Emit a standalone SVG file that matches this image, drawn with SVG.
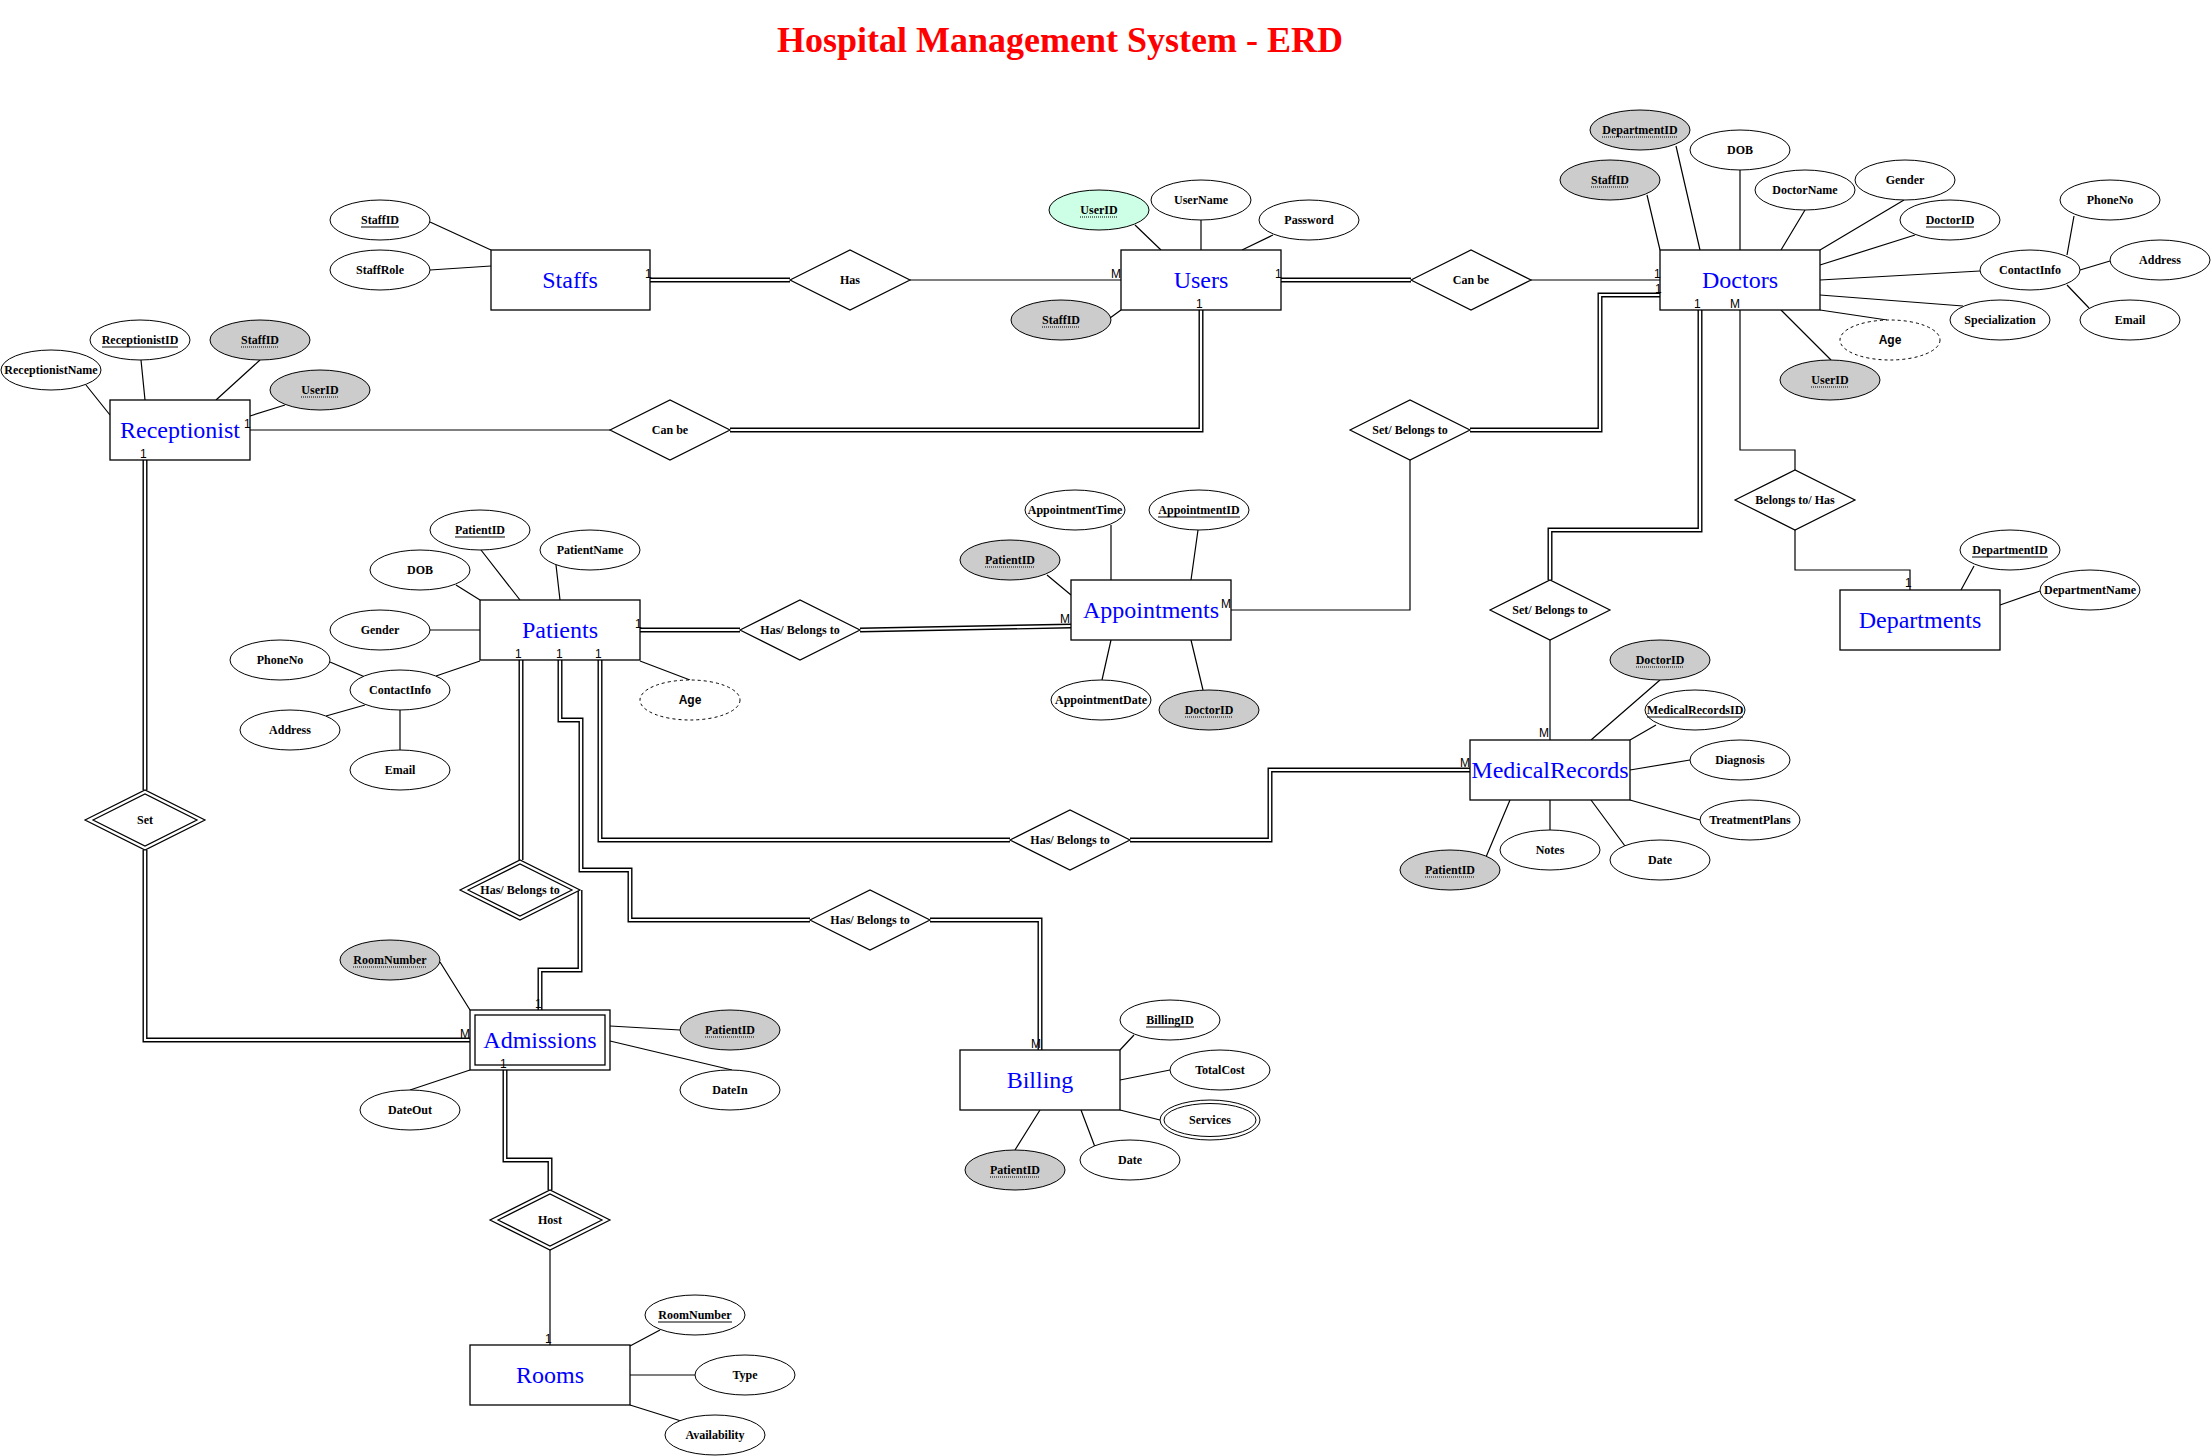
<svg xmlns="http://www.w3.org/2000/svg" width="2212" height="1456" viewBox="0 0 2212 1456">
<style>
.bg{fill:#fff}
.ent{fill:#fff;stroke:#000;stroke-width:1.3}
.etxt{font-family:'Liberation Serif','Times New Roman',serif;font-size:24px;fill:#0000FF;text-anchor:middle}
.att{fill:#fff;stroke:#000;stroke-width:1}
.fk{fill:#CCCCCC}
.mint{fill:#CCFFE6}
.der{stroke-dasharray:3 3}
.atxt{font-family:'Liberation Serif','Times New Roman',serif;font-weight:bold;font-size:12px;text-anchor:middle;fill:#000}
.stxt{font-family:'Liberation Sans',Arial,sans-serif;font-weight:bold;font-size:12px;text-anchor:middle;fill:#000}
.rel{fill:#fff;stroke:#000;stroke-width:1.2}
.ln{fill:none;stroke:#000;stroke-width:1.2}
.db{fill:none;stroke:#000;stroke-width:5}
.dw{fill:none;stroke:#fff;stroke-width:2.2}
.ul{stroke:#000;stroke-width:1}
.uld{stroke:#000;stroke-width:1;stroke-dasharray:1 1}
.card{font-family:'Liberation Sans',Arial,sans-serif;font-size:12px;fill:#000}
.title{font-family:'Liberation Serif','Times New Roman',serif;font-weight:bold;font-size:36px;fill:#FF0000;text-anchor:middle}
</style>
<rect class="bg" x="0" y="0" width="2212" height="1456"/>
<text class="title" x="1060" y="52">Hospital Management System - ERD</text>

<g id="connectors">
<!-- attribute lines -->
<path class="ln" d="M430,222L491,250M430,270L491,266"/>
<path class="ln" d="M1135,225L1161,250M1201,220L1201,250M1273,235L1242,250M1110,318L1121,310"/>
<path class="ln" d="M86,385L110,415M141,360L145,400M260,360L216,400M285,405L250,416"/>
<path class="ln" d="M1676,146L1700,250M1647,195L1660,250M1740,170L1740,250M1805,210L1781,250M1904,200L1820,250M1915,235L1820,265M1980,271L1820,280M2074,216L2067,255M2110,261L2080,270M2089,308L2067,285M1963,306L1820,295M1887,320L1820,310M1831,360L1781,310"/>
<path class="ln" d="M481,550L520,600M556,565L560,600M456,585L480,600M430,630L480,630M436,676L480,661M330,662L365,677M326,716L365,705M400,710L400,750M640,661L690,680"/>
<path class="ln" d="M1111,525L1111,580M1198,530L1191,580M1047,575L1071,595M1102,680L1111,640M1203,690L1191,640"/>
<path class="ln" d="M1660,680L1591,740M1656,725L1630,740M1690,760L1630,770M1700,820L1630,800M1625,846L1591,800M1550,830L1550,800M1486,857L1510,800"/>
<path class="ln" d="M1974,566L1961,590M2040,591L2000,605"/>
<path class="ln" d="M440,962L470,1010M680,1030L610,1026M732,1070L610,1041M410,1090L470,1070"/>
<path class="ln" d="M1134,1035L1120,1050M1170,1070L1120,1080M1160,1120L1120,1110M1095,1147L1081,1110M1015,1150L1040,1110"/>
<path class="ln" d="M660,1330L630,1346M695,1375L630,1375M681,1421L630,1405"/>
<!-- single relationship lines -->
<path class="ln" d="M910,280H1121"/>
<path class="ln" d="M250,430H610"/>
<path class="ln" d="M1531,280H1660"/>
<path class="ln" d="M1410,460V610H1231"/>
<path class="ln" d="M1740,310V450H1795V470"/>
<path class="ln" d="M1795,530V570H1910V590"/>
<path class="ln" d="M1550,640V740"/>
<path class="ln" d="M550,1250V1345"/>
<!-- double relationship lines -->
<path class="db" d="M650,280H790"/><path class="dw" d="M650,280H790"/>
<path class="db" d="M730,430H1201V310"/><path class="dw" d="M730,430H1201V310"/>
<path class="db" d="M1281,280H1411"/><path class="dw" d="M1281,280H1411"/>
<path class="db" d="M1660,295H1600V430H1470"/><path class="dw" d="M1660,295H1600V430H1470"/>
<path class="db" d="M1700,310V530H1550V580"/><path class="dw" d="M1700,310V530H1550V580"/>
<path class="db" d="M640,630H740"/><path class="dw" d="M640,630H740"/>
<path class="db" d="M860,630L1071,626"/><path class="dw" d="M860,630L1071,626"/>
<path class="db" d="M600,660V840H1010"/><path class="dw" d="M600,660V840H1010"/>
<path class="db" d="M1130,840H1270V770H1470"/><path class="dw" d="M1130,840H1270V770H1470"/>
<path class="db" d="M560,660V720H581V870H630V920H810"/><path class="dw" d="M560,660V720H581V870H630V920H810"/>
<path class="db" d="M930,920H1040V1050"/><path class="dw" d="M930,920H1040V1050"/>
<path class="db" d="M521,660V860"/><path class="dw" d="M521,660V860"/>
<path class="db" d="M580,890V970H540V1010"/><path class="dw" d="M580,890V970H540V1010"/>
<path class="db" d="M145,460V790"/><path class="dw" d="M145,460V790"/>
<path class="db" d="M145,850V1040H470"/><path class="dw" d="M145,850V1040H470"/>
<path class="db" d="M505,1070V1160H550V1190"/><path class="dw" d="M505,1070V1160H550V1190"/>
</g>

<!-- Relationships -->
<g id="rel-has"><polygon class="rel" points="790,280 850,250 910,280 850,310"/><text class="atxt" x="850" y="284">Has</text></g>
<g id="rel-canbe-recep"><polygon class="rel" points="610,430 670,400 730,430 670,460"/><text class="atxt" x="670" y="434">Can be</text></g>
<g id="rel-canbe-doc"><polygon class="rel" points="1411,280 1471,250 1531,280 1471,310"/><text class="atxt" x="1471" y="284">Can be</text></g>
<g id="rel-setbelongs-appt"><polygon class="rel" points="1350,430 1410,400 1470,430 1410,460"/><text class="atxt" x="1410" y="434">Set/ Belongs to</text></g>
<g id="rel-belongshas"><polygon class="rel" points="1735,500 1795,470 1855,500 1795,530"/><text class="atxt" x="1795" y="504">Belongs to/ Has</text></g>
<g id="rel-setbelongs-med"><polygon class="rel" points="1490,610 1550,580 1610,610 1550,640"/><text class="atxt" x="1550" y="614">Set/ Belongs to</text></g>
<g id="rel-has-appt"><polygon class="rel" points="740,630 800,600 860,630 800,660"/><text class="atxt" x="800" y="634">Has/ Belongs to</text></g>
<g id="rel-has-med"><polygon class="rel" points="1010,840 1070,810 1130,840 1070,870"/><text class="atxt" x="1070" y="844">Has/ Belongs to</text></g>
<g id="rel-has-bill"><polygon class="rel" points="810,920 870,890 930,920 870,950"/><text class="atxt" x="870" y="924">Has/ Belongs to</text></g>
<g id="rel-has-adm"><polygon class="rel" points="460,890 520,860 580,890 520,920"/><polygon class="rel" points="468,890 520,864 572,890 520,916"/><text class="atxt" x="520" y="894">Has/ Belongs to</text></g>
<g id="rel-set"><polygon class="rel" points="85,820 145,790 205,820 145,850"/><polygon class="rel" points="93,820 145,794 197,820 145,846"/><text class="atxt" x="145" y="824">Set</text></g>
<g id="rel-host"><polygon class="rel" points="490,1220 550,1190 610,1220 550,1250"/><polygon class="rel" points="498,1220 550,1194 602,1220 550,1246"/><text class="atxt" x="550" y="1224">Host</text></g>

<!-- Entities -->
<g id="ent-staffs"><rect class="ent" x="491" y="250" width="159" height="60"/><text class="etxt" x="570" y="288">Staffs</text></g>
<g id="ent-users"><rect class="ent" x="1121" y="250" width="160" height="60"/><text class="etxt" x="1201" y="288">Users</text></g>
<g id="ent-doctors"><rect class="ent" x="1660" y="250" width="160" height="60"/><text class="etxt" x="1740" y="288">Doctors</text></g>
<g id="ent-receptionist"><rect class="ent" x="110" y="400" width="140" height="60"/><text class="etxt" x="180" y="438">Receptionist</text></g>
<g id="ent-patients"><rect class="ent" x="480" y="600" width="160" height="60"/><text class="etxt" x="560" y="638">Patients</text></g>
<g id="ent-appointments"><rect class="ent" x="1071" y="580" width="160" height="60"/><text class="etxt" x="1151" y="618">Appointments</text></g>
<g id="ent-medicalrecords"><rect class="ent" x="1470" y="740" width="160" height="60"/><text class="etxt" x="1550" y="778">MedicalRecords</text></g>
<g id="ent-departments"><rect class="ent" x="1840" y="590" width="160" height="60"/><text class="etxt" x="1920" y="628">Departments</text></g>
<g id="ent-admissions"><rect class="ent" x="470" y="1010" width="140" height="60"/><rect class="ent" x="475" y="1015" width="130" height="50"/><text class="etxt" x="540" y="1048">Admissions</text></g>
<g id="ent-billing"><rect class="ent" x="960" y="1050" width="160" height="60"/><text class="etxt" x="1040" y="1088">Billing</text></g>
<g id="ent-rooms"><rect class="ent" x="470" y="1345" width="160" height="60"/><text class="etxt" x="550" y="1383">Rooms</text></g>

<!-- Attributes: Staffs -->
<g id="att-staffs-staffid"><ellipse class="att" cx="380" cy="220" rx="50" ry="20"/><text class="atxt" x="380" y="224">StaffID</text><line class="ul" x1="361" y1="227" x2="399" y2="227"/></g>
<g id="att-staffs-staffrole"><ellipse class="att" cx="380" cy="270" rx="50" ry="20"/><text class="atxt" x="380" y="274">StaffRole</text></g>

<!-- Users -->
<g id="att-users-userid"><ellipse class="att mint" cx="1099" cy="210" rx="50" ry="20"/><text class="atxt" x="1099" y="214">UserID</text><line class="uld" x1="1080" y1="217" x2="1118" y2="217"/></g>
<g id="att-users-username"><ellipse class="att" cx="1201" cy="200" rx="50" ry="20"/><text class="atxt" x="1201" y="204">UserName</text></g>
<g id="att-users-password"><ellipse class="att" cx="1309" cy="220" rx="50" ry="20"/><text class="atxt" x="1309" y="224">Password</text></g>
<g id="att-users-staffid"><ellipse class="att fk" cx="1061" cy="320" rx="50" ry="20"/><text class="atxt" x="1061" y="324">StaffID</text><line class="uld" x1="1042" y1="327" x2="1080" y2="327"/></g>

<!-- Receptionist -->
<g id="att-rec-name"><ellipse class="att" cx="51" cy="370" rx="50" ry="20"/><text class="atxt" x="51" y="374">ReceptionistName</text></g>
<g id="att-rec-id"><ellipse class="att" cx="140" cy="340" rx="50" ry="20"/><text class="atxt" x="140" y="344">ReceptionistID</text><line class="ul" x1="102" y1="347" x2="178" y2="347"/></g>
<g id="att-rec-staffid"><ellipse class="att fk" cx="260" cy="340" rx="50" ry="20"/><text class="atxt" x="260" y="344">StaffID</text><line class="uld" x1="241" y1="347" x2="279" y2="347"/></g>
<g id="att-rec-userid"><ellipse class="att fk" cx="320" cy="390" rx="50" ry="20"/><text class="atxt" x="320" y="394">UserID</text><line class="uld" x1="301" y1="397" x2="339" y2="397"/></g>

<!-- Doctors -->
<g id="att-doc-deptid"><ellipse class="att fk" cx="1640" cy="130" rx="50" ry="20"/><text class="atxt" x="1640" y="134">DepartmentID</text><line class="uld" x1="1602" y1="137" x2="1678" y2="137"/></g>
<g id="att-doc-staffid"><ellipse class="att fk" cx="1610" cy="180" rx="50" ry="20"/><text class="atxt" x="1610" y="184">StaffID</text><line class="uld" x1="1591" y1="187" x2="1629" y2="187"/></g>
<g id="att-doc-dob"><ellipse class="att" cx="1740" cy="150" rx="50" ry="20"/><text class="atxt" x="1740" y="154">DOB</text></g>
<g id="att-doc-name"><ellipse class="att" cx="1805" cy="190" rx="50" ry="20"/><text class="atxt" x="1805" y="194">DoctorName</text></g>
<g id="att-doc-gender"><ellipse class="att" cx="1905" cy="180" rx="50" ry="20"/><text class="atxt" x="1905" y="184">Gender</text></g>
<g id="att-doc-id"><ellipse class="att" cx="1950" cy="220" rx="50" ry="20"/><text class="atxt" x="1950" y="224">DoctorID</text><line class="ul" x1="1926" y1="227" x2="1974" y2="227"/></g>
<g id="att-doc-contact"><ellipse class="att" cx="2030" cy="270" rx="50" ry="20"/><text class="atxt" x="2030" y="274">ContactInfo</text></g>
<g id="att-doc-phone"><ellipse class="att" cx="2110" cy="200" rx="50" ry="20"/><text class="atxt" x="2110" y="204">PhoneNo</text></g>
<g id="att-doc-address"><ellipse class="att" cx="2160" cy="260" rx="50" ry="20"/><text class="atxt" x="2160" y="264">Address</text></g>
<g id="att-doc-email"><ellipse class="att" cx="2130" cy="320" rx="50" ry="20"/><text class="atxt" x="2130" y="324">Email</text></g>
<g id="att-doc-spec"><ellipse class="att" cx="2000" cy="320" rx="50" ry="20"/><text class="atxt" x="2000" y="324">Specialization</text></g>
<g id="att-doc-age"><ellipse class="att der" cx="1890" cy="340" rx="50" ry="20"/><text class="stxt" x="1890" y="344">Age</text></g>
<g id="att-doc-userid"><ellipse class="att fk" cx="1830" cy="380" rx="50" ry="20"/><text class="atxt" x="1830" y="384">UserID</text><line class="uld" x1="1811" y1="387" x2="1849" y2="387"/></g>

<!-- Patients -->
<g id="att-pat-id"><ellipse class="att" cx="480" cy="530" rx="50" ry="20"/><text class="atxt" x="480" y="534">PatientID</text><line class="ul" x1="455" y1="537" x2="505" y2="537"/></g>
<g id="att-pat-name"><ellipse class="att" cx="590" cy="550" rx="50" ry="20"/><text class="atxt" x="590" y="554">PatientName</text></g>
<g id="att-pat-dob"><ellipse class="att" cx="420" cy="570" rx="50" ry="20"/><text class="atxt" x="420" y="574">DOB</text></g>
<g id="att-pat-gender"><ellipse class="att" cx="380" cy="630" rx="50" ry="20"/><text class="atxt" x="380" y="634">Gender</text></g>
<g id="att-pat-contact"><ellipse class="att" cx="400" cy="690" rx="50" ry="20"/><text class="atxt" x="400" y="694">ContactInfo</text></g>
<g id="att-pat-phone"><ellipse class="att" cx="280" cy="660" rx="50" ry="20"/><text class="atxt" x="280" y="664">PhoneNo</text></g>
<g id="att-pat-address"><ellipse class="att" cx="290" cy="730" rx="50" ry="20"/><text class="atxt" x="290" y="734">Address</text></g>
<g id="att-pat-email"><ellipse class="att" cx="400" cy="770" rx="50" ry="20"/><text class="atxt" x="400" y="774">Email</text></g>
<g id="att-pat-age"><ellipse class="att der" cx="690" cy="700" rx="50" ry="20"/><text class="stxt" x="690" y="704">Age</text></g>

<!-- Appointments -->
<g id="att-app-time"><ellipse class="att" cx="1075" cy="510" rx="50" ry="20"/><text class="atxt" x="1075" y="514">AppointmentTime</text></g>
<g id="att-app-id"><ellipse class="att" cx="1199" cy="510" rx="50" ry="20"/><text class="atxt" x="1199" y="514">AppointmentID</text><line class="ul" x1="1158" y1="517" x2="1240" y2="517"/></g>
<g id="att-app-patid"><ellipse class="att fk" cx="1010" cy="560" rx="50" ry="20"/><text class="atxt" x="1010" y="564">PatientID</text><line class="uld" x1="985" y1="567" x2="1035" y2="567"/></g>
<g id="att-app-date"><ellipse class="att" cx="1101" cy="700" rx="50" ry="20"/><text class="atxt" x="1101" y="704">AppointmentDate</text></g>
<g id="att-app-docid"><ellipse class="att fk" cx="1209" cy="710" rx="50" ry="20"/><text class="atxt" x="1209" y="714">DoctorID</text><line class="uld" x1="1185" y1="717" x2="1233" y2="717"/></g>

<!-- MedicalRecords -->
<g id="att-med-docid"><ellipse class="att fk" cx="1660" cy="660" rx="50" ry="20"/><text class="atxt" x="1660" y="664">DoctorID</text><line class="uld" x1="1636" y1="667" x2="1684" y2="667"/></g>
<g id="att-med-id"><ellipse class="att" cx="1695" cy="710" rx="50" ry="20"/><text class="atxt" x="1695" y="714">MedicalRecordsID</text><line class="ul" x1="1647" y1="717" x2="1743" y2="717"/></g>
<g id="att-med-diag"><ellipse class="att" cx="1740" cy="760" rx="50" ry="20"/><text class="atxt" x="1740" y="764">Diagnosis</text></g>
<g id="att-med-plans"><ellipse class="att" cx="1750" cy="820" rx="50" ry="20"/><text class="atxt" x="1750" y="824">TreatmentPlans</text></g>
<g id="att-med-date"><ellipse class="att" cx="1660" cy="860" rx="50" ry="20"/><text class="atxt" x="1660" y="864">Date</text></g>
<g id="att-med-notes"><ellipse class="att" cx="1550" cy="850" rx="50" ry="20"/><text class="atxt" x="1550" y="854">Notes</text></g>
<g id="att-med-patid"><ellipse class="att fk" cx="1450" cy="870" rx="50" ry="20"/><text class="atxt" x="1450" y="874">PatientID</text><line class="uld" x1="1425" y1="877" x2="1475" y2="877"/></g>

<!-- Departments -->
<g id="att-dep-id"><ellipse class="att" cx="2010" cy="550" rx="50" ry="20"/><text class="atxt" x="2010" y="554">DepartmentID</text><line class="ul" x1="1972" y1="557" x2="2048" y2="557"/></g>
<g id="att-dep-name"><ellipse class="att" cx="2090" cy="590" rx="50" ry="20"/><text class="atxt" x="2090" y="594">DepartmentName</text></g>

<!-- Admissions -->
<g id="att-adm-room"><ellipse class="att fk" cx="390" cy="960" rx="50" ry="20"/><text class="atxt" x="390" y="964">RoomNumber</text><line class="uld" x1="353" y1="967" x2="427" y2="967"/></g>
<g id="att-adm-patid"><ellipse class="att fk" cx="730" cy="1030" rx="50" ry="20"/><text class="atxt" x="730" y="1034">PatientID</text><line class="uld" x1="705" y1="1037" x2="755" y2="1037"/></g>
<g id="att-adm-datein"><ellipse class="att" cx="730" cy="1090" rx="50" ry="20"/><text class="atxt" x="730" y="1094">DateIn</text></g>
<g id="att-adm-dateout"><ellipse class="att" cx="410" cy="1110" rx="50" ry="20"/><text class="atxt" x="410" y="1114">DateOut</text></g>

<!-- Billing -->
<g id="att-bill-id"><ellipse class="att" cx="1170" cy="1020" rx="50" ry="20"/><text class="atxt" x="1170" y="1024">BillingID</text><line class="ul" x1="1146" y1="1027" x2="1194" y2="1027"/></g>
<g id="att-bill-total"><ellipse class="att" cx="1220" cy="1070" rx="50" ry="20"/><text class="atxt" x="1220" y="1074">TotalCost</text></g>
<g id="att-bill-services"><ellipse class="att" cx="1210" cy="1120" rx="50" ry="20"/><ellipse class="att" cx="1210" cy="1120" rx="46" ry="16.5"/><text class="atxt" x="1210" y="1124">Services</text></g>
<g id="att-bill-date"><ellipse class="att" cx="1130" cy="1160" rx="50" ry="20"/><text class="atxt" x="1130" y="1164">Date</text></g>
<g id="att-bill-patid"><ellipse class="att fk" cx="1015" cy="1170" rx="50" ry="20"/><text class="atxt" x="1015" y="1174">PatientID</text><line class="uld" x1="990" y1="1177" x2="1040" y2="1177"/></g>

<!-- Rooms -->
<g id="att-room-num"><ellipse class="att" cx="695" cy="1315" rx="50" ry="20"/><text class="atxt" x="695" y="1319">RoomNumber</text><line class="ul" x1="658" y1="1322" x2="732" y2="1322"/></g>
<g id="att-room-type"><ellipse class="att" cx="745" cy="1375" rx="50" ry="20"/><text class="atxt" x="745" y="1379">Type</text></g>
<g id="att-room-avail"><ellipse class="att" cx="715" cy="1435" rx="50" ry="20"/><text class="atxt" x="715" y="1439">Availability</text></g>

<!-- Cardinality labels -->
<g id="cardinalities">
<text class="card" x="645" y="278">1</text>
<text class="card" x="1111" y="278">M</text>
<text class="card" x="1275" y="278">1</text>
<text class="card" x="1196" y="308">1</text>
<text class="card" x="244" y="428">1</text>
<text class="card" x="140" y="458">1</text>
<text class="card" x="1654" y="278">1</text>
<text class="card" x="1655" y="293">1</text>
<text class="card" x="1694" y="308">1</text>
<text class="card" x="1730" y="308">M</text>
<text class="card" x="1905" y="587">1</text>
<text class="card" x="1539" y="737">M</text>
<text class="card" x="1460" y="767">M</text>
<text class="card" x="1221" y="608">M</text>
<text class="card" x="1060" y="623">M</text>
<text class="card" x="635" y="628">1</text>
<text class="card" x="515" y="658">1</text>
<text class="card" x="556" y="658">1</text>
<text class="card" x="595" y="658">1</text>
<text class="card" x="535" y="1008">1</text>
<text class="card" x="460" y="1038">M</text>
<text class="card" x="500" y="1068">1</text>
<text class="card" x="1031" y="1048">M</text>
<text class="card" x="545" y="1343">1</text>
</g>
</svg>
